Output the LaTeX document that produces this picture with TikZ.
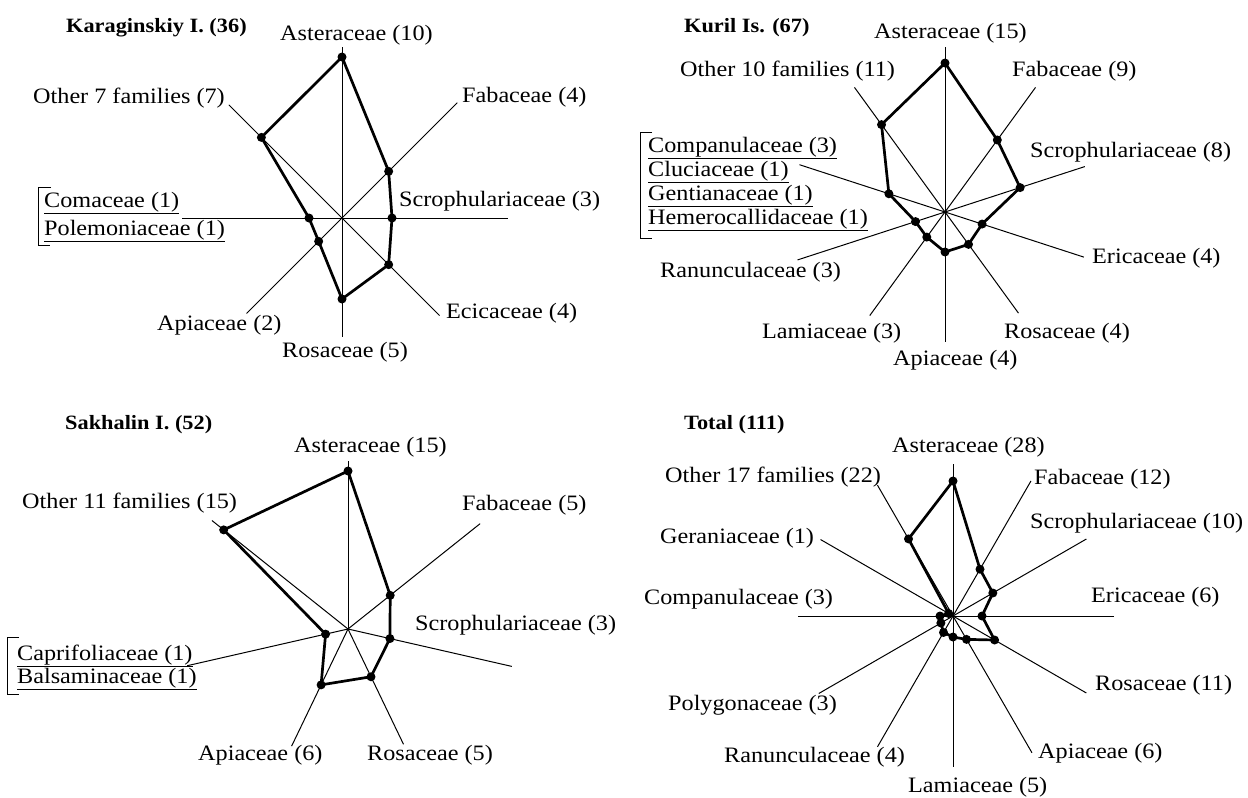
\documentclass[tikz,border=0pt]{standalone}
\usepackage{fontspec}
\setmainfont[FakeStretch=1.1]{Liberation Serif}
\usepackage{tikz}

\begin{document}
\begin{tikzpicture}[x=1pt,y=1pt,yscale=-1,xscale=1,
	spoke/.style={line width=1pt},
	poly/.style={line width=2.7pt,line join=round},
	lbl/.style={anchor=base west,inner sep=0pt,font=\fontsize{22}{26}\selectfont},
	ttl/.style={anchor=base west,inner sep=0pt,font=\fontsize{20.3}{24}\selectfont\bfseries},
	brk/.style={line width=1pt}]
	\useasboundingbox (0,0) rectangle (1248,798);
	
	%Shape: Radar Karaginskiy [centre 342,218]
	\begin{scope}[shift={(342,218)},yscale=-1]
		\draw[spoke] (90:171) -- (270:119);
		\draw[spoke] (180:160) -- (0:166);
		\draw[spoke] (45:163) -- (225:135);
		\draw[spoke] (135:160) -- (315:138);
		\coordinate (k1) at (90:161);
		\coordinate (k2) at (45:66);
		\coordinate (k3) at (0:50);
		\coordinate (k4) at (-45:66);
		\coordinate (k5) at (-90:81);
		\coordinate (k6) at (-135:33);
		\coordinate (k7) at (180:33);
		\coordinate (k8) at (135:114);
		\draw[poly] (k1) -- (k2) -- (k3) -- (k4) -- (k5) -- (k6) -- (k7) -- (k8) -- cycle;
		\fill (k1) circle (4.5pt) (k2) circle (4.5pt) (k3) circle (4.5pt) (k4) circle (4.5pt)
		      (k5) circle (4.5pt) (k6) circle (4.5pt) (k7) circle (4.5pt) (k8) circle (4.5pt);
	\end{scope}
	%Straight Lines: bracket
	\draw[brk] (51,187) -- (38,187) -- (38,245) -- (50,245);
	
	% Text Node
	\node[ttl] (k-title) at (66,32) {Karaginskiy I. (36)};
	\node[lbl] (k-ast) at (280,40) {Asteraceae (10)};
	\node[lbl] (k-oth) at (33,103) {Other 7 families (7)};
	\node[lbl] (k-fab) at (462,102) {Fabaceae (4)};
	\node[lbl] (k-scr) at (399,206) {Scrophulariaceae (3)};
	\node[lbl] (k-com) at (44,207) {\underline{Comaceae (1)}};
	\node[lbl] (k-pol) at (44,235) {\underline{Polemoniaceae (1)}};
	\node[lbl] (k-eci) at (446,318) {Ecicaceae (4)};
	\node[lbl] (k-api) at (157,330) {Apiaceae (2)};
	\node[lbl] (k-ros) at (282,357) {Rosaceae (5)};
	
	%Shape: Radar Kuril [centre 945,212]
	\begin{scope}[shift={(945,212)},yscale=-1]
		\draw[spoke] (90:165) -- (270:130);
		\draw[spoke] (54:154) -- (234:128);
		\draw[spoke] (18:147) -- (198:155);
		\draw[spoke] (-18:146) -- (162:153);
		\draw[spoke] (-54:125) -- (126:154);
		\coordinate (u1) at (90:149);
		\coordinate (u2) at (54:89);
		\coordinate (u3) at (18:79);
		\coordinate (u4) at (-18:39);
		\coordinate (u5) at (-54:40);
		\coordinate (u6) at (-90:40);
		\coordinate (u7) at (-126:31);
		\coordinate (u8) at (-162:31);
		\coordinate (u9) at (162:59);
		\coordinate (u10) at (126:108);
		\draw[poly] (u1) -- (u2) -- (u3) -- (u4) -- (u5) -- (u6) -- (u7) -- (u8) -- (u9) -- (u10) -- cycle;
		\fill (u1) circle (4.5pt) (u2) circle (4.5pt) (u3) circle (4.5pt) (u4) circle (4.5pt)
		      (u5) circle (4.5pt) (u6) circle (4.5pt) (u7) circle (4.5pt) (u8) circle (4.5pt)
		      (u9) circle (4.5pt) (u10) circle (4.5pt);
	\end{scope}
	%Straight Lines: bracket
	\draw[brk] (652,132) -- (640,132) -- (640,238) -- (652,238);
	
	% Text Node
	\node[ttl] (u-title) at (684,32) {Kuril Is. (67)};
	\node[lbl] (u-ast) at (874,38) {Asteraceae (15)};
	\node[lbl] (u-oth) at (680,76) {Other 10 families (11)};
	\node[lbl] (u-fab) at (1012,76) {Fabaceae (9)};
	\node[lbl] (u-cmp) at (648,152) {\underline{Companulaceae (3)}};
	\node[lbl] (u-clu) at (648,176) {\underline{Cluciaceae (1)}};
	\node[lbl] (u-gen) at (648,200) {\underline{Gentianaceae (1)}};
	\node[lbl] (u-hem) at (648,224) {\underline{Hemerocallidaceae (1)}};
	\node[lbl] (u-scr) at (1030,157) {Scrophulariaceae (8)};
	\node[lbl] (u-eri) at (1092,263) {Ericaceae (4)};
	\node[lbl] (u-ran) at (660,277) {Ranunculaceae (3)};
	\node[lbl] (u-lam) at (762,338) {Lamiaceae (3)};
	\node[lbl] (u-ros) at (1004,338) {Rosaceae (4)};
	\node[lbl] (u-api) at (893,365) {Apiaceae (4)};
	
	%Shape: Radar Sakhalin [centre 348,629]
	\begin{scope}[shift={(348,629)},yscale=-1]
		\draw[spoke] (0,0) -- (90:168);
		\draw[spoke] (0,0) -- (38.57:169);
		\draw[spoke] (0,0) -- (-12.86:168);
		\draw[spoke] (0,0) -- (-64.29:128);
		\draw[spoke] (0,0) -- (-115.71:130);
		\draw[spoke] (0,0) -- (192.86:165);
		\draw[spoke] (0,0) -- (141.43:174);
		\coordinate (s1) at (90:158);
		\coordinate (s2) at (38.57:54);
		\coordinate (s3) at (-12.86:43);
		\coordinate (s4) at (-64.29:53);
		\coordinate (s5) at (-115.71:62);
		\coordinate (s6) at (192.86:23);
		\coordinate (s7) at (141.43:159);
		\draw[poly] (s1) -- (s2) -- (s3) -- (s4) -- (s5) -- (s6) -- (s7) -- cycle;
		\fill (s1) circle (4.5pt) (s2) circle (4.5pt) (s3) circle (4.5pt) (s4) circle (4.5pt)
		      (s5) circle (4.5pt) (s6) circle (4.5pt) (s7) circle (4.5pt);
	\end{scope}
	%Straight Lines: bracket
	\draw[brk] (19,637) -- (7,637) -- (7,694) -- (19,694);
	
	% Text Node
	\node[ttl] (s-title) at (65,429) {Sakhalin I. (52)};
	\node[lbl] (s-ast) at (294,452) {Asteraceae (15)};
	\node[lbl] (s-oth) at (22,508) {Other 11 families (15)};
	\node[lbl] (s-fab) at (462,510) {Fabaceae (5)};
	\node[lbl] (s-scr) at (415,630) {Scrophulariaceae (3)};
	\node[lbl] (s-cap) at (17,660) {\underline{Caprifoliaceae (1)}};
	\node[lbl] (s-bal) at (17,683) {\underline{Balsaminaceae (1)}};
	\node[lbl] (s-api) at (198,760) {Apiaceae (6)};
	\node[lbl] (s-ros) at (367,760) {Rosaceae (5)};
	
	%Shape: Radar Total [centre 953,616]
	\begin{scope}[shift={(953,616)},yscale=-1]
		\draw[spoke] (90:152) -- (270:151);
		\draw[spoke] (60:156) -- (240:151);
		\draw[spoke] (30:154) -- (210:155);
		\draw[spoke] (0:161) -- (180:155);
		\draw[spoke] (-30:154) -- (150:153);
		\draw[spoke] (-60:158) -- (120:151);
		\coordinate (t1) at (90:135);
		\coordinate (t2) at (60:54);
		\coordinate (t3) at (30:46);
		\coordinate (t4) at (0:29);
		\coordinate (t5) at (-30:48);
		\coordinate (t6) at (-60:27);
		\coordinate (t7) at (-90:21);
		\coordinate (t8) at (-120:19);
		\coordinate (t9) at (-150:14);
		\coordinate (t10) at (180:13);
		\coordinate (t11) at (150:5);
		\coordinate (t12) at (120:89);
		\draw[poly] (t1) -- (t2) -- (t3) -- (t4) -- (t5) -- (t6) -- (t7) -- (t8) -- (t9) -- (t10) -- (t11) -- (t12) -- cycle;
		\fill (t1) circle (4.5pt) (t2) circle (4.5pt) (t3) circle (4.5pt) (t4) circle (4.5pt)
		      (t5) circle (4.5pt) (t6) circle (4.5pt) (t7) circle (4.5pt) (t8) circle (4.5pt)
		      (t9) circle (4.5pt) (t10) circle (4.5pt) (t11) circle (4.5pt) (t12) circle (4.5pt);
	\end{scope}
	
	% Text Node
	\node[ttl] (t-title) at (684,429) {Total (111)};
	\node[lbl] (t-ast) at (892,452) {Asteraceae (28)};
	\node[lbl] (t-oth) at (665,482) {Other 17 families (22)};
	\node[lbl] (t-fab) at (1034,484) {Fabaceae (12)};
	\node[lbl] (t-scr) at (1030,528) {Scrophulariaceae (10)};
	\node[lbl] (t-ger) at (660,543) {Geraniaceae (1)};
	\node[lbl] (t-cmp) at (644,604) {Companulaceae (3)};
	\node[lbl] (t-eri) at (1091,602) {Ericaceae (6)};
	\node[lbl] (t-ros) at (1095,690) {Rosaceae (11)};
	\node[lbl] (t-pol) at (668,710) {Polygonaceae (3)};
	\node[lbl] (t-ran) at (724,762) {Ranunculaceae (4)};
	\node[lbl] (t-api) at (1038,758) {Apiaceae (6)};
	\node[lbl] (t-lam) at (908,792) {Lamiaceae (5)};
	
\end{tikzpicture}
\end{document}
